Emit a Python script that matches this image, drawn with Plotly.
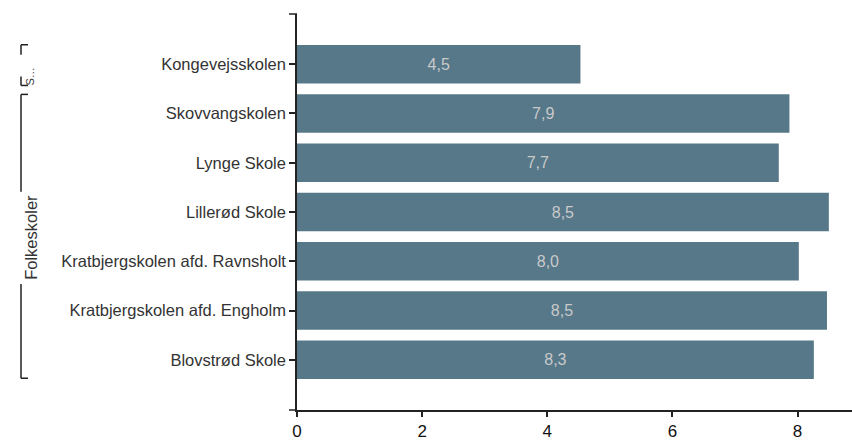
import plotly.graph_objects as go

# ---- data (bottom to top as drawn) ----
schools = [
    "Blovstrød Skole",
    "Kratbjergskolen afd. Engholm",
    "Kratbjergskolen afd. Ravnsholt",
    "Lillerød Skole",
    "Lynge Skole",
    "Skovvangskolen",
    "Kongevejsskolen",
]
values = [8.26, 8.47, 8.02, 8.5, 7.7, 7.87, 4.53]
group_labels = ["Folkeskoler", "S…"]
x_ticks = [0, 2, 4, 6, 8]

labels = [f"{v:.1f}".replace(".", ",") for v in values]

W, H = 852, 441
L, R, T, B = 297, 0, 14, 28
PW, PH = W - L - R, H - T - B
FONT = "Liberation Sans"


def px(xp):
    return (xp - L) / PW


def py(yp):
    return (H - B - yp) / PH


fig = go.Figure(
    go.Bar(
        x=values,
        y=schools,
        orientation="h",
        marker=dict(color="#567889", line=dict(width=0)),
        text=labels,
        textposition="inside",
        insidetextanchor="middle",
        textangle=0,
        textfont=dict(color="#c9c9c9", size=16, family=FONT),
        hoverinfo="skip",
    )
)

line_col = "#222222"
shapes = []
# y-axis end caps
shapes.append(dict(type="line", xref="paper", yref="paper", x0=px(289), x1=px(297), y0=1, y1=1,
                   line=dict(color=line_col, width=1.5)))
shapes.append(dict(type="line", xref="paper", yref="paper", x0=px(289), x1=px(297), y0=0, y1=0,
                   line=dict(color=line_col, width=1.5)))


def bracket(top, bottom, text_top, text_bottom):
    xl, xr = 21, 28
    segs = [
        (xl, top, xr, top),
        (xl, top, xl, text_top),
        (xl, text_bottom, xl, bottom),
        (xl, bottom, xr, bottom),
    ]
    for x0, y0, x1, y1 in segs:
        shapes.append(dict(type="line", xref="paper", yref="paper",
                           x0=px(x0), x1=px(x1), y0=py(y0), y1=py(y1),
                           line=dict(color=line_col, width=1.5)))


bracket(95, 381, 193, 286)
bracket(45, 86, 55, 77)

annotations = [
    dict(text=group_labels[0], xref="paper", yref="paper", x=px(20), y=py(239.5),
         textangle=-90, showarrow=False, font=dict(size=16.5, color="#333333", family=FONT)),
    dict(text=group_labels[1], xref="paper", yref="paper", x=px(22), y=py(66),
         textangle=-90, showarrow=False, font=dict(size=11, color="#333333", family=FONT)),
]

fig.update_layout(
    width=W,
    height=H,
    margin=dict(l=L, r=R, t=T, b=B, pad=0),
    plot_bgcolor="white",
    paper_bgcolor="white",
    bargap=0.215,
    showlegend=False,
    shapes=shapes,
    annotations=annotations,
    font=dict(family=FONT, color="#333333"),
    xaxis=dict(
        range=[0, 8.87],
        tickvals=x_ticks,
        ticktext=[str(t) for t in x_ticks],
        showgrid=False,
        zeroline=False,
        showline=True,
        linecolor=line_col,
        linewidth=1.5,
        ticks="outside",
        ticklen=5,
        tickwidth=1.5,
        tickcolor=line_col,
        tickfont=dict(size=17, color="#111111"),
    ),
    yaxis=dict(
        type="category",
        categoryorder="array",
        categoryarray=schools,
        range=[-1.02, 7.02],
        showgrid=False,
        zeroline=False,
        showline=True,
        linecolor=line_col,
        linewidth=1.5,
        ticks="outside",
        ticklen=6,
        tickwidth=1.5,
        tickcolor=line_col,
        tickfont=dict(size=16.5, color="#333333"),
    ),
)

fig.write_html(
    "out.html",
    config={"displayModeBar": False},
    post_script="document.body.style.margin='0px';document.body.style.overflow='hidden';",
)
